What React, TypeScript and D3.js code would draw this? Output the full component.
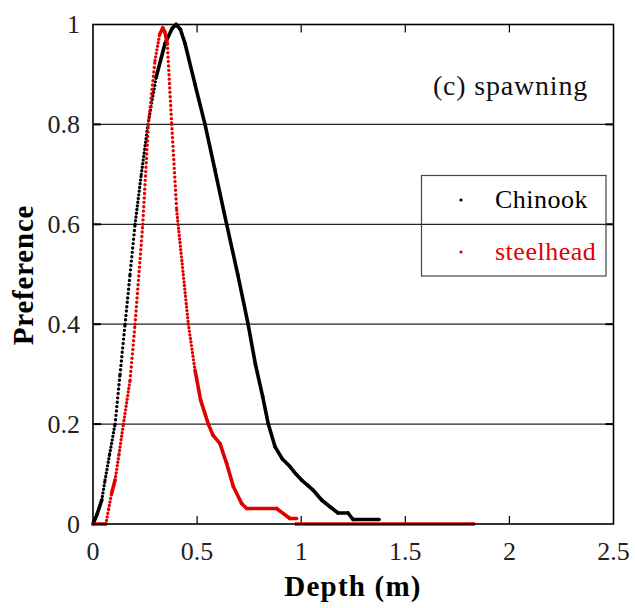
import React from "react";
import * as d3 from "d3";

// ---- data (depth m, preference) ----
const chinook: [number, number][] = [
  [0, 0], [0.02, 0.02], [0.042, 0.048], [0.058, 0.088], [0.08, 0.14], [0.106, 0.2],
  [0.13, 0.3], [0.154, 0.4], [0.178, 0.5], [0.202, 0.6], [0.232, 0.7], [0.264, 0.8],
  [0.303, 0.894], [0.346, 0.962], [0.38, 0.992], [0.399, 1.0],
  [0.42, 0.99], [0.442, 0.962], [0.49, 0.88], [0.538, 0.8], [0.585, 0.71],
  [0.642, 0.6], [0.695, 0.5], [0.745, 0.4], [0.78, 0.32], [0.815, 0.255], [0.842, 0.2],
  [0.874, 0.155], [0.91, 0.13], [0.946, 0.115], [0.975, 0.1], [1.002, 0.088], [1.03, 0.078],
  [1.057, 0.068], [1.098, 0.048], [1.14, 0.034], [1.177, 0.022], [1.225, 0.022],
  [1.249, 0.009], [1.374, 0.009],
];

const steelhead: [number, number][] = [
  [0, 0], [0.062, 0], [0.075, 0.03], [0.09, 0.062], [0.106, 0.088], [0.125, 0.14],
  [0.146, 0.2], [0.178, 0.288], [0.202, 0.4], [0.239, 0.6], [0.266, 0.8], [0.298, 0.928],
  [0.32, 0.98], [0.335, 0.993], [0.345, 0.985], [0.357, 0.961], [0.378, 0.8], [0.402, 0.628],
  [0.458, 0.4], [0.49, 0.308], [0.517, 0.248], [0.554, 0.2], [0.576, 0.178],
  [0.61, 0.161], [0.642, 0.121], [0.674, 0.075], [0.714, 0.041], [0.738, 0.031],
  [0.882, 0.031], [0.946, 0.011], [0.978, 0.011],
];

const steelheadTail: [number, number][] = [
  [0.97, 0], [1.835, 0],
];

const xTicks = [0, 0.5, 1, 1.5, 2, 2.5];
const xTickLabels = ["0", "0.5", "1", "1.5", "2", "2.5"];
const yTicks = [0, 0.2, 0.4, 0.6, 0.8, 1];
const yTickLabels = ["0", "0.2", "0.4", "0.6", "0.8", "1"];
const seriesNames = ["Chinook", "steelhead"];
const seriesColors = ["#000000", "#e30000"];

const W = 635;
const H = 608;
const FONT = '"Liberation Serif", "Times New Roman", Times, serif';

const x = d3.scaleLinear().domain([0, 2.5]).range([93, 613.5]);
const y = d3.scaleLinear().domain([0, 1]).range([524, 24.5]);

// The original is drawn with dense markers; emulate by a dot spacing that grows with steepness.
const STEP_UP = 0.46;
const STEP_DOWN = 0.3;

function Series({ data, color }: { data: [number, number][]; color: string }) {
  const px = data.map(([d, p]) => [x(d), y(p)] as [number, number]);
  const segs = [];
  for (let i = 0; i < px.length - 1; i++) {
    const [ax, ay] = px[i];
    const [bx, by] = px[i + 1];
    const dx = Math.abs(bx - ax);
    const len = Math.hypot(bx - ax, by - ay);
    const step = by < ay ? STEP_UP : STEP_DOWN;
    const gap = dx > 0 ? Math.min(4.4, (step * len) / dx) : 4.4;
    const d = `M${ax},${ay}L${bx},${by}`;
    segs.push(
      gap < 1.9 ? (
        <path key={i} d={d} fill="none" stroke={color} strokeWidth={3.6} strokeLinecap="round" />
      ) : (
        <path key={i} d={d} fill="none" stroke={color} strokeWidth={3.4} strokeLinecap="round"
          strokeDasharray={`0 ${Math.max(gap, 3.6).toFixed(2)}`} />
      )
    );
  }
  return <g>{segs}</g>;
}

const line = d3.line<[number, number]>().x((d) => x(d[0])).y((d) => y(d[1]));

export default function App() {
  const [x0, x1] = x.range();
  const [y0, y1] = y.range();
  return (
    <svg width={W} height={H} style={{ position: "absolute", left: 0, top: 0, background: "#fff", fontFamily: FONT }}>
      <rect x={0} y={0} width={W} height={H} fill="#fff" />
      {/* gridlines */}
      {yTicks.filter((t) => t > 0 && t < 1).map((t) => (
        <line key={t} x1={x0} x2={x1} y1={y(t)} y2={y(t)} stroke="#222" strokeWidth={1.2} />
      ))}
      {/* ticks */}
      {xTicks.filter((t) => t > 0 && t < 2.5).map((t) => (
        <g key={t}>
          <line x1={x(t)} x2={x(t)} y1={y0} y2={y0 - 8} stroke="#000" strokeWidth={1.2} />
          <line x1={x(t)} x2={x(t)} y1={y1} y2={y1 + 8} stroke="#000" strokeWidth={1.2} />
        </g>
      ))}
      {yTicks.filter((t) => t > 0 && t < 1).map((t) => (
        <g key={t}>
          <line x1={x0} x2={x0 + 8} y1={y(t)} y2={y(t)} stroke="#000" strokeWidth={2} />
          <line x1={x1} x2={x1 - 8} y1={y(t)} y2={y(t)} stroke="#000" strokeWidth={2} />
        </g>
      ))}
      {/* series */}
      <Series data={chinook} color={seriesColors[0]} />
      <Series data={steelhead} color={seriesColors[1]} />
      <path d={line(steelheadTail) || ""} stroke={seriesColors[1]} strokeWidth={3.6} fill="none" />
      {/* frame */}
      <rect x={x0} y={y1} width={x1 - x0} height={y0 - y1} fill="none" stroke="#000" strokeWidth={1.6} />
      {/* tick labels */}
      {yTicks.map((t, i) => (
        <text key={t} x={80} y={y(t)} dy="0.33em" textAnchor="end" fontSize={26} fill="#222">
          {yTickLabels[i]}
        </text>
      ))}
      {xTicks.map((t, i) => (
        <text key={t} x={x(t)} y={560} textAnchor="middle" fontSize={26} fill="#222">
          {xTickLabels[i]}
        </text>
      ))}
      {/* axis titles */}
      <text x={353} y={596} textAnchor="middle" fontSize={29} fontWeight="bold" letterSpacing={1.2} fill="#000">
        Depth (m)
      </text>
      <text transform={`translate(33,${275}) rotate(-90)`} textAnchor="middle" fontSize={29}
        fontWeight="bold" letterSpacing={0.8} fill="#000">
        Preference
      </text>
      {/* panel label */}
      <text x={588} y={95} textAnchor="end" fontSize={28} letterSpacing={0.8} fill="#111">
        (c) spawning
      </text>
      {/* legend */}
      <rect x={421.5} y={175.5} width={184.5} height={100.5} fill="none" stroke="#444" strokeWidth={1.2} />
      {seriesNames.map((n, i) => (
        <g key={n}>
          <circle cx={461} cy={200 + i * 52} r={1.6} fill={seriesColors[i]} />
          <text x={495} y={208 + i * 52} fontSize={26} letterSpacing={0.5} fill={seriesColors[i]}>
            {n}
          </text>
        </g>
      ))}
    </svg>
  );
}
